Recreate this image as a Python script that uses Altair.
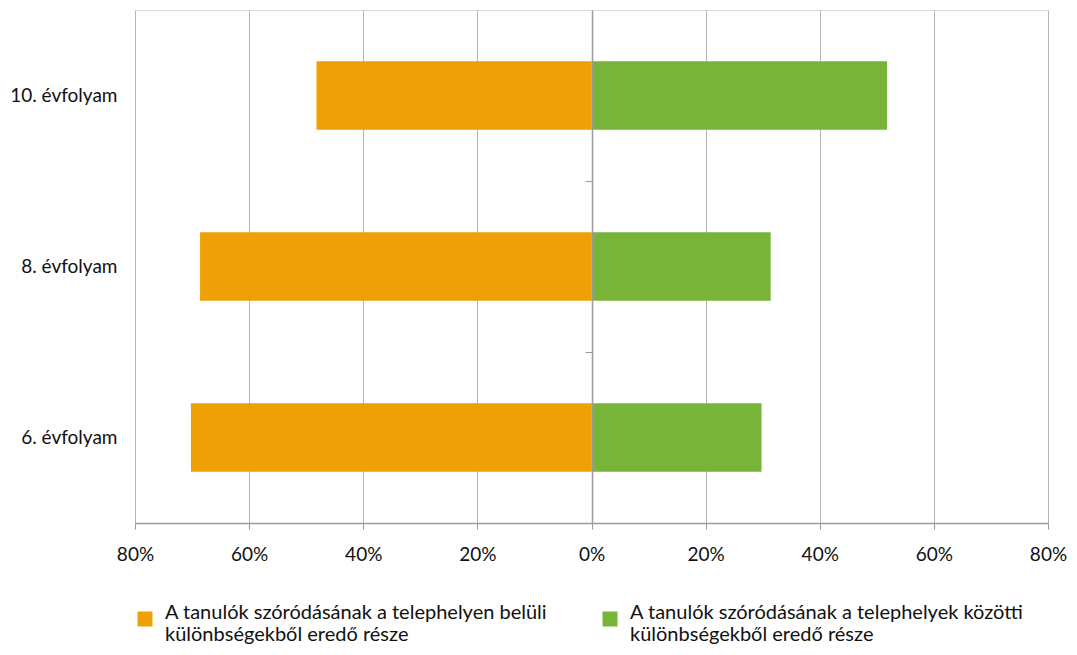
import altair as alt
import pandas as pd

categories = ["10. évfolyam", "8. évfolyam", "6. évfolyam"]
within_share = [48.2, 68.6, 70.2]   # orange, shown to the left
between_share = [51.8, 31.4, 29.8]  # green, shown to the right
series = [
    "A tanulók szóródásának a telephelyen belüli|különbségekből eredő része",
    "A tanulók szóródásának a telephelyek közötti|különbségekből eredő része",
]
colors = ["#EEA106", "#79B43A"]
x_ticks = [-80, -60, -40, -20, 0, 20, 40, 60, 80]

rows = []
for c, w, b in zip(categories, within_share, between_share):
    rows.append({"cat": c, "series": series[0], "start": 0, "end": -w})
    rows.append({"cat": c, "series": series[1], "start": 0, "end": b})
df = pd.DataFrame(rows)

FONT = "Lato"

yscale = alt.Scale(domain=categories, paddingInner=0.6, paddingOuter=0.3)
xscale = alt.Scale(domain=[-80, 80], nice=False)

xaxis = alt.Axis(title=None, values=x_ticks, labelExpr="abs(datum.value) + '%'",
                 grid=True, gridColor="#b4b4b4", gridWidth=1,
                 domainColor="#9a9a9a", domainWidth=1.5, labelFlush=False,
                 tickColor="#9a9a9a", tickSize=6, labelPadding=16,
                 labelFontSize=19, labelColor="#111", labelFont=FONT)

bars = alt.Chart(df).mark_bar().encode(
    y=alt.Y("cat:N", scale=yscale, sort=categories,
            axis=alt.Axis(title=None, domain=False, ticks=False, labelPadding=18,
                          labelFontSize=19, labelColor="#111", labelFont=FONT)),
    x=alt.X("start:Q", scale=xscale, axis=xaxis),
    x2="end:Q",
    color=alt.Color("series:N", scale=alt.Scale(domain=series, range=colors),
                    legend=alt.Legend(title=None, orient="none", legendX=0, legendY=599,
                                      direction="horizontal", columns=2, columnPadding=52,
                                      symbolType="square", symbolSize=225,
                                      symbolStrokeWidth=0, symbolOpacity=1,
                                      labelExpr="split(datum.label, '|')",
                                      labelFontSize=20, labelFont=FONT, labelColor="#111",
                                      labelLimit=600, labelBaseline="alphabetic",
                                      labelOffset=10)),
)

zero_axis = alt.Chart(df).mark_bar(opacity=0).encode(
    y=alt.Y("cat:N", scale=yscale, sort=categories,
            axis=alt.Axis(title=None, orient="left", offset=-457, labels=False,
                          ticks=True, tickOffset=85.5, tickSize=7, tickColor="#9a9a9a",
                          domain=True, domainColor="#9a9a9a", domainWidth=1.5, zindex=1)),
    x=alt.X("start:Q", scale=xscale),
    x2="end:Q",
)

chart = alt.layer(bars, zero_axis).resolve_axis(y="independent").properties(
    width=913, height=513,
    autosize=alt.AutoSizeParams(type="none"),
    padding={"left": 127, "top": 2, "right": 21, "bottom": 124},
).configure_view(stroke="#b4b4b4", strokeWidth=1.5).configure(font=FONT, background="white")

chart.save("out.html", embed_options={"renderer": "svg", "actions": False})
